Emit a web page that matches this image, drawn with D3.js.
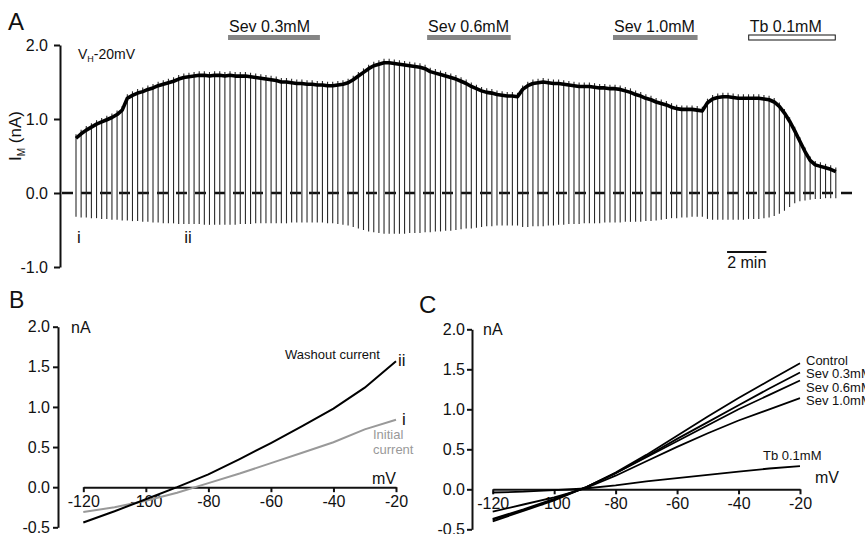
<!DOCTYPE html>
<html lang="en">
  <head>
    <meta charset="UTF-8" />
    <title>M-current washout and Sev / Tb block</title>
    <style>
      body { margin: 0; background: #fff; }
      svg text { font-family: "Liberation Sans", Arial, sans-serif; fill: #111; }
    </style>
  </head>
  <body>
    <svg id="svg" width="865" height="534"></svg>
    <script src="https://cdnjs.cloudflare.com/ajax/libs/d3/7.8.5/d3.min.js"></script>
    <script>
      // ---- panel A data: holding current at each sweep (nA) and bottom of each step (nA)
      const sweepMin = 0.261; // minutes between sweeps
      const traceNA = [
        0.74, 0.8, 0.85, 0.89, 0.93, 0.96, 0.99, 1.02, 1.06, 1.12,
        1.28, 1.32, 1.35, 1.37, 1.4, 1.42, 1.45, 1.47, 1.49, 1.51,
        1.54, 1.56, 1.57, 1.58, 1.59, 1.59, 1.58, 1.59, 1.59, 1.58,
        1.59, 1.58, 1.58, 1.58, 1.57, 1.56, 1.55, 1.54, 1.53, 1.52,
        1.5, 1.5, 1.49, 1.48, 1.48, 1.47, 1.47, 1.46, 1.46, 1.45,
        1.45, 1.46, 1.47, 1.49, 1.53, 1.58, 1.63, 1.68, 1.72, 1.74,
        1.76, 1.76, 1.75, 1.74, 1.73, 1.72, 1.71, 1.7, 1.68, 1.64,
        1.62, 1.6, 1.58, 1.56, 1.54, 1.51, 1.48, 1.44, 1.41, 1.38,
        1.36, 1.35, 1.33, 1.32, 1.31, 1.31, 1.3, 1.4, 1.45, 1.48,
        1.49, 1.5, 1.49, 1.48, 1.48, 1.47, 1.46, 1.45, 1.44, 1.44,
        1.44, 1.43, 1.42, 1.42, 1.41, 1.41, 1.4, 1.38, 1.36, 1.33,
        1.31, 1.28, 1.26, 1.23, 1.21, 1.19, 1.16, 1.14, 1.13, 1.13,
        1.13, 1.12, 1.11, 1.22, 1.27, 1.29, 1.3, 1.3, 1.29, 1.28,
        1.28, 1.28, 1.28, 1.28, 1.27, 1.26, 1.23, 1.17, 1.08, 0.97,
        0.84, 0.7, 0.56, 0.44, 0.38, 0.36, 0.34, 0.32, 0.29
      ];
      const stepBottomNA = [
        -0.32, -0.33, -0.33, -0.34, -0.34, -0.35, -0.35, -0.36, -0.36, -0.37,
        -0.37, -0.38, -0.38, -0.39, -0.39, -0.4, -0.4, -0.41, -0.41, -0.41,
        -0.42, -0.42, -0.42, -0.42, -0.42, -0.43, -0.43, -0.43, -0.43, -0.43,
        -0.43, -0.43, -0.42, -0.42, -0.42, -0.41, -0.41, -0.41, -0.41, -0.41,
        -0.41, -0.41, -0.4, -0.4, -0.4, -0.4, -0.4, -0.4, -0.4, -0.41,
        -0.41, -0.42, -0.43, -0.44, -0.46, -0.48, -0.5, -0.52, -0.53, -0.54,
        -0.55, -0.55, -0.55, -0.55, -0.55, -0.54, -0.54, -0.54, -0.53, -0.53,
        -0.52, -0.52, -0.51, -0.51, -0.5, -0.49, -0.48, -0.48, -0.47, -0.46,
        -0.45, -0.45, -0.44, -0.44, -0.44, -0.44, -0.44, -0.46, -0.46, -0.45,
        -0.45, -0.45, -0.44, -0.44, -0.43, -0.43, -0.42, -0.42, -0.42, -0.41,
        -0.41, -0.41, -0.41, -0.4, -0.4, -0.4, -0.4, -0.39, -0.39, -0.39,
        -0.39, -0.38, -0.38, -0.37, -0.36, -0.35, -0.34, -0.34, -0.33, -0.33,
        -0.32, -0.32, -0.32, -0.35, -0.36, -0.36, -0.36, -0.36, -0.36, -0.36,
        -0.36, -0.35, -0.35, -0.35, -0.34, -0.33, -0.31, -0.28, -0.24, -0.19,
        -0.14, -0.11, -0.1, -0.09, -0.08, -0.08, -0.07, -0.07, -0.07
      ];
      const drugNames = ["Sev 0.3mM", "Sev 0.6mM", "Sev 1.0mM", "Tb 0.1mM"];
      const drugStartMin = [7.73, 17.85, 27.3, 34.2];
      const drugEndMin = [12.4, 22.1, 31.6, 38.6];
      const ivMarkNames = ["i", "ii"];
      const ivMarkMin = [0, 5.45];
      const ticksA = [-1, 0, 1, 2];

      // ---- panel B / C data: I-V relations (mV -> nA)
      const voltsMV = [-120, -110, -100, -90, -80, -70, -60, -50, -40, -30, -20];
      const washoutNA = [-0.44, -0.3, -0.15, 0.0, 0.16, 0.35, 0.55, 0.76, 0.98, 1.24, 1.57];
      const initialNA = [-0.31, -0.25, -0.17, -0.07, 0.05, 0.17, 0.3, 0.43, 0.56, 0.72, 0.84];
      const ivSeriesC = ["Control", "Sev 0.3mM", "Sev 0.6mM", "Sev 1.0mM", "Tb 0.1mM"];
      const controlNA = [-0.4, -0.27, -0.14, 0.02, 0.21, 0.43, 0.67, 0.91, 1.14, 1.36, 1.575];
      const sev03NA = [-0.38, -0.26, -0.13, 0.02, 0.2, 0.41, 0.63, 0.84, 1.05, 1.26, 1.46];
      const sev06NA = [-0.37, -0.25, -0.12, 0.02, 0.2, 0.4, 0.6, 0.8, 1.0, 1.18, 1.36];
      const sev10NA = [-0.28, -0.19, -0.1, 0.01, 0.17, 0.35, 0.53, 0.7, 0.86, 1.0, 1.14];
      const tbNA = [-0.04, -0.03, -0.01, 0.01, 0.05, 0.1, 0.14, 0.18, 0.22, 0.26, 0.29];
      const ivTicksX = [-120, -100, -80, -60, -40, -20];
      const ivTicksY = [-0.5, 0, 0.5, 1, 1.5, 2];

      const svg = d3.select("#svg");
      const fmt = (d) => d.toFixed(1);

      // =================== Panel A ===================
      const xA = d3.scaleLinear().domain([0, 40]).range([76, 76 + 40 * 19.67]);
      const yA = d3.scaleLinear().domain([-1, 2]).range([267, 45]);
      const gA = svg.append("g");

      gA.append("g")
        .attr("transform", "translate(60,0)")
        .call(d3.axisLeft(yA).tickValues(ticksA).tickFormat(fmt).tickSize(6).tickSizeOuter(0).tickPadding(6))
        .call((g) => g.selectAll("path,line").attr("stroke", "#111").attr("stroke-width", 2))
        .call((g) => g.selectAll("text").style("font-size", "16px").attr("fill", "#222"));

      // dashed zero line
      gA.append("line")
        .attr("x1", 62)
        .attr("x2", xA(39.5))
        .attr("y1", yA(0))
        .attr("y2", yA(0))
        .attr("stroke", "#111")
        .attr("stroke-width", 2.5)
        .attr("stroke-dasharray", "11 8");

      // voltage-step sweeps
      gA.selectAll(".sweep")
        .data(traceNA)
        .enter()
        .append("line")
        .attr("class", "sweep")
        .attr("x1", (d, i) => xA(i * sweepMin))
        .attr("x2", (d, i) => xA(i * sweepMin))
        .attr("y1", (d) => yA(d) - 4)
        .attr("y2", (d, i) => yA(stepBottomNA[i]))
        .attr("stroke", "#2a2a2a")
        .attr("stroke-width", 1.1);

      // holding current trace
      gA.append("path")
        .datum(traceNA)
        .attr("fill", "none")
        .attr("stroke", "#000")
        .attr("stroke-width", 3.6)
        .attr("stroke-linejoin", "round")
        .attr("d", d3.line().x((d, i) => xA(i * sweepMin)).y((d) => yA(d)));

      // drug application bars
      gA.selectAll(".drug")
        .data(drugNames)
        .enter()
        .append("rect")
        .attr("x", (d, i) => xA(drugStartMin[i]))
        .attr("y", 35)
        .attr("width", (d, i) => xA(drugEndMin[i]) - xA(drugStartMin[i]))
        .attr("height", 5)
        .attr("fill", (d) => (d.startsWith("Tb") ? "#fff" : "#858585"))
        .attr("stroke", (d) => (d.startsWith("Tb") ? "#111" : "none"))
        .attr("stroke-width", 1);
      gA.selectAll(".drugLabel")
        .data(drugNames)
        .enter()
        .append("text")
        .attr("x", (d, i) => xA(drugStartMin[i]) + 1)
        .attr("y", 32)
        .style("font-size", "16px")
        .text((d) => d);

      gA.selectAll(".ivMark")
        .data(ivMarkNames)
        .enter()
        .append("text")
        .attr("x", (d, i) => xA(ivMarkMin[i]) + 1)
        .attr("y", 243)
        .style("font-size", "17px")
        .text((d) => d);

      // time scale bar
      gA.append("line")
        .attr("x1", xA(33.1))
        .attr("x2", xA(35.1))
        .attr("y1", 252)
        .attr("y2", 252)
        .attr("stroke", "#111")
        .attr("stroke-width", 2);
      gA.append("text")
        .attr("x", (xA(33.1) + xA(35.1)) / 2)
        .attr("y", 268)
        .attr("text-anchor", "middle")
        .style("font-size", "16px")
        .text("2 min");

      const vh = gA.append("text").attr("x", 78).attr("y", 59).style("font-size", "14px");
      vh.append("tspan").text("V");
      vh.append("tspan").attr("dy", 3).style("font-size", "9px").text("H");
      vh.append("tspan").attr("dy", -3).text("-20mV");

      const yl = gA.append("text")
        .attr("transform", "translate(21,136) rotate(-90)")
        .attr("text-anchor", "middle")
        .style("font-size", "17px");
      yl.append("tspan").text("I");
      yl.append("tspan").attr("dy", 4).style("font-size", "10px").text("M");
      yl.append("tspan").attr("dy", -4).text(" (nA)");

      svg.append("text").attr("x", 8).attr("y", 30).style("font-size", "24px").text("A");

      // =================== Panel B / C helpers ===================
      function ivAxes(g, x, y, xAxisY, yAxisX, padY) {
        g.append("g")
          .attr("transform", `translate(${yAxisX},0)`)
          .call(d3.axisLeft(y).tickValues(ivTicksY).tickFormat(fmt).tickSize(5).tickSizeOuter(0).tickPadding(padY))
          .call((a) => a.selectAll("path,line").attr("stroke", "#111").attr("stroke-width", 2))
          .call((a) => a.selectAll("text").style("font-size", "16px").attr("fill", "#222"));
        g.append("g")
          .attr("transform", `translate(0,${xAxisY})`)
          .call(d3.axisBottom(x).tickValues(ivTicksX).tickFormat((d) => d).tickSize(5).tickSizeOuter(0).tickPadding(3))
          .call((a) => a.selectAll("path,line").attr("stroke", "#111").attr("stroke-width", 2))
          .call((a) => a.selectAll("text").style("font-size", "16px").attr("fill", "#222"));
      }

      // =================== Panel B ===================
      const xB = d3.scaleLinear().domain([-120, -20]).range([83.3, 396]);
      const yB = d3.scaleLinear().domain([-0.5, 2]).range([527.3, 326.7]);
      const gB = svg.append("g");
      ivAxes(gB, xB, yB, yB(0), 58, 3);
      const lineB = d3.line().x((d, i) => xB(voltsMV[i])).y((d) => yB(d));

      gB.append("path").datum(initialNA).attr("fill", "none").attr("stroke", "#999")
        .attr("stroke-width", 2).attr("d", lineB);
      gB.append("path").datum(washoutNA).attr("fill", "none").attr("stroke", "#000")
        .attr("stroke-width", 2).attr("d", lineB);

      gB.append("text").attr("x", 71).attr("y", 333).style("font-size", "16px").text("nA");
      gB.append("text").attr("x", 396).attr("y", 484).attr("text-anchor", "end").style("font-size", "16px").text("mV");
      gB.append("text").attr("x", 285).attr("y", 359).style("font-size", "13px").text("Washout current");
      gB.append("text").attr("x", 398).attr("y", 366).style("font-size", "17px").text("ii");
      gB.append("text").attr("x", 402).attr("y", 425).style("font-size", "17px").text("i");
      gB.append("text").attr("x", 373).attr("y", 439).style("font-size", "13px").style("fill", "#999").text("Initial");
      gB.append("text").attr("x", 373).attr("y", 454).style("font-size", "13px").style("fill", "#999").text("current");
      svg.append("text").attr("x", 9).attr("y", 308).style("font-size", "23px").text("B");

      // =================== Panel C ===================
      const xC = d3.scaleLinear().domain([-120, -20]).range([492.7, 800]);
      const yC = d3.scaleLinear().domain([-0.5, 2]).range([529.3, 329.3]);
      const gC = svg.append("g");
      ivAxes(gC, xC, yC, yC(0), 472, 2);
      const lineC = d3.line().x((d, i) => xC(voltsMV[i])).y((d) => yC(d));
      const seriesC = [controlNA, sev03NA, sev06NA, sev10NA, tbNA];

      gC.selectAll(".iv")
        .data(seriesC)
        .enter()
        .append("path")
        .attr("fill", "none")
        .attr("stroke", "#000")
        .attr("stroke-width", 1.8)
        .attr("d", lineC);

      const labelBaseC = [365, 378, 391.5, 404.5, 460];
      const labelXC = [806, 806, 806, 806, 763];
      gC.selectAll(".ivLabel")
        .data(ivSeriesC)
        .enter()
        .append("text")
        .attr("x", (d, i) => labelXC[i])
        .attr("y", (d, i) => labelBaseC[i])
        .style("font-size", "13px")
        .text((d) => d);

      gC.append("text").attr("x", 483).attr("y", 335).style("font-size", "16px").text("nA");
      gC.append("text").attr("x", 815).attr("y", 483).style("font-size", "16px").text("mV");
      svg.append("text").attr("x", 419).attr("y", 313).style("font-size", "24px").text("C");
    </script>
  </body>
</html>
